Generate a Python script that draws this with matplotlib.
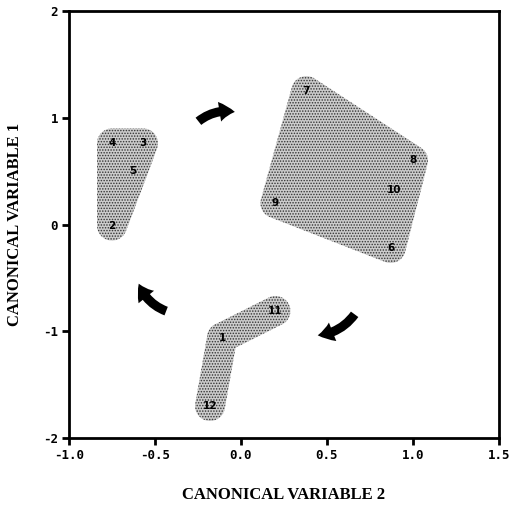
import numpy as np
import matplotlib.pyplot as plt
from matplotlib.patches import Polygon, FancyArrowPatch

# site scores on the two canonical variables
site_ids = ['1', '2', '3', '4', '5', '6', '7', '8', '9', '10', '11', '12']
cv2 = [-0.11, -0.75, -0.57, -0.75, -0.63, 0.87, 0.38, 1.00, 0.20, 0.89, 0.20, -0.18]
cv1 = [-1.06, -0.01, 0.76, 0.76, 0.50, -0.22, 1.25, 0.60, 0.20, 0.32, -0.81, -1.70]

# groups (convex blobs) and one curved chain group
convex_groups = [['2', '3', '4', '5'], ['6', '7', '8', '9', '10']]
chain_groups = [['12', '1', '11']]

# seasonal arrows (tail -> head, in data units)
arrow_tails = [(-0.26, 0.95), (0.67, -0.82), (-0.42, -0.82)]
arrow_heads = [(-0.02, 1.05), (0.43, -1.04), (-0.60, -0.53)]

xticks = [-1.0, -0.5, 0.0, 0.5, 1.0, 1.5]
yticks = [-2, -1, 0, 1, 2]


def hull(p):
    p = sorted(map(tuple, p))
    def half(seq):
        h = []
        for q in seq:
            while len(h) >= 2 and (h[-1][0]-h[-2][0])*(q[1]-h[-2][1]) - (h[-1][1]-h[-2][1])*(q[0]-h[-2][0]) <= 0:
                h.pop()
            h.append(q)
        return h
    lo = half(p)
    up = half(p[::-1])
    return np.array(lo[:-1] + up[:-1])


def blob(ax, ids, r=15):
    idx = [site_ids.index(i) for i in ids]
    pts = ax.transData.transform(np.column_stack([np.array(cv2)[idx], np.array(cv1)[idx]]))
    t = np.linspace(0, 2*np.pi, 60, endpoint=False)
    circ = np.column_stack([np.cos(t), np.sin(t)]) * r
    allp = (pts[:, None, :] + circ[None, :, :]).reshape(-1, 2)
    h = hull(allp)
    h = ax.transData.inverted().transform(h)
    ax.add_patch(Polygon(h, closed=True, facecolor='#cccccc', edgecolor='#333333',
                         hatch='......', linewidth=0, zorder=1))


plt.rcParams['hatch.linewidth'] = 0.7
fig = plt.figure(figsize=(5.2, 5.12), dpi=100)
ax = fig.add_axes([0.1327, 0.1445, 0.8269, 0.834])
ax.set_xlim(-1.0, 1.5)
ax.set_ylim(-2, 2)

for g in convex_groups:
    blob(ax, g)
for g in chain_groups:
    for a, b in zip(g[:-1], g[1:]):
        blob(ax, [a, b])

for s, x, y in zip(site_ids, cv2, cv1):
    ax.text(x, y, s, ha='center', va='center', fontsize=7.5, fontweight='bold', zorder=3)

for tail, head in zip(arrow_tails, arrow_heads):
    ax.add_patch(FancyArrowPatch(tail, head, connectionstyle='arc3,rad=-0.25',
                                 arrowstyle='simple,tail_width=0.6,head_width=1.3,head_length=1.0',
                                 mutation_scale=11, color='black', lw=0, zorder=3))

ax.set_xticks(xticks)
ax.set_xticklabels(['%.1f' % v for v in xticks], fontfamily='DejaVu Sans Mono', fontweight='bold', fontsize=9)
ax.set_yticks(yticks)
ax.set_yticklabels([str(v) for v in yticks], fontfamily='DejaVu Sans Mono', fontweight='bold', fontsize=9)
ax.tick_params(direction='out', length=5, width=2, pad=3)
for sp in ax.spines.values():
    sp.set_linewidth(2)

ax.set_xlabel('CANONICAL VARIABLE 2', fontfamily='Liberation Serif', fontweight='bold', fontsize=12, labelpad=18)
ax.set_ylabel('CANONICAL VARIABLE 1', fontfamily='Liberation Serif', fontweight='bold', fontsize=12, labelpad=14)

fig.savefig('out.png', dpi=100)
